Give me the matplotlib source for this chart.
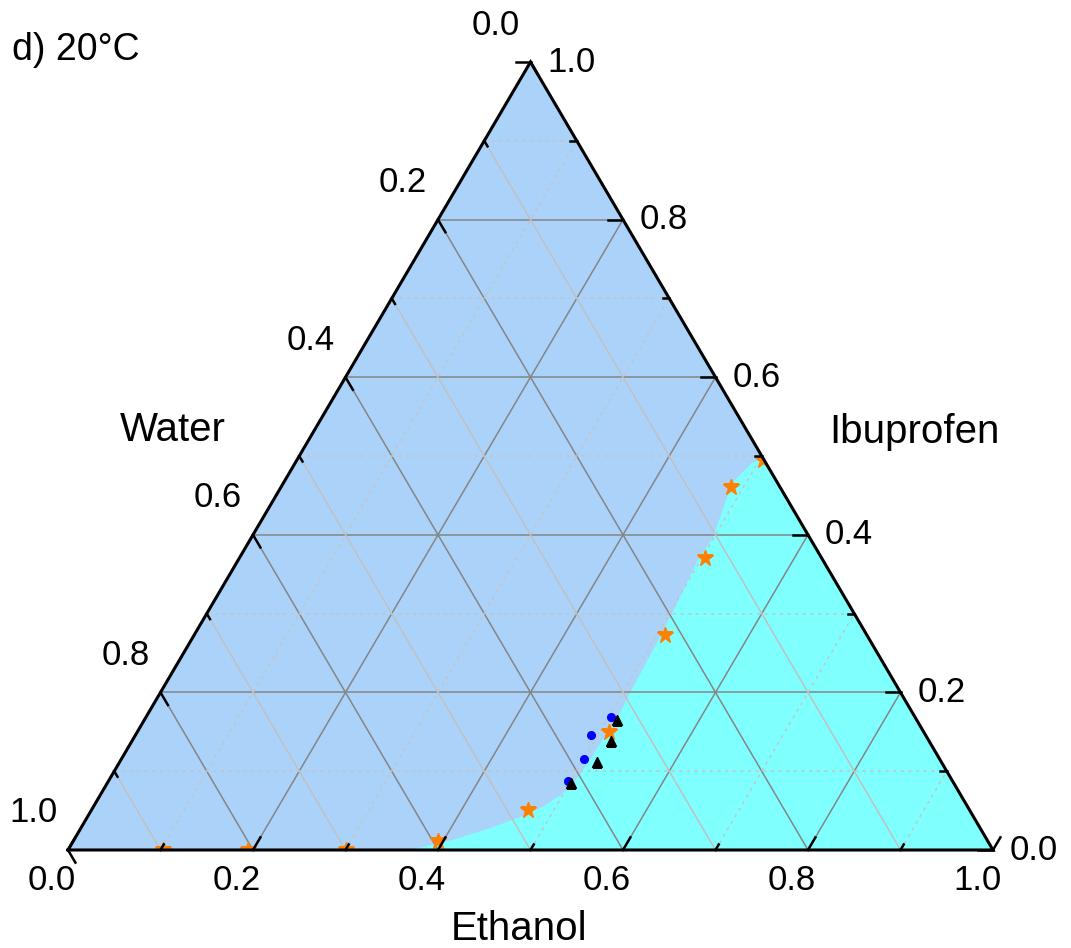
import numpy as np
import matplotlib.pyplot as plt
from matplotlib.patches import Polygon
from matplotlib.transforms import offset_copy

plt.rcParams['font.family'] = ['Liberation Sans', 'DejaVu Sans']

# -------------------------------
# compositions as (ethanol, ibuprofen); water = 1 - ethanol - ibuprofen
star_eth = [0.504, 0.486, 0.503, 0.509, 0.510, 0.472, 0.394, 0.300, 0.195, 0.103]
star_ibu = [0.495, 0.461, 0.371, 0.273, 0.150, 0.051, 0.011, 0.000, 0.000, 0.000]
dot_eth = [0.502, 0.492, 0.500, 0.496]
dot_ibu = [0.169, 0.146, 0.116, 0.088]
tri_eth = [0.511, 0.518, 0.516, 0.501]
tri_ibu = [0.165, 0.138, 0.112, 0.085]

# edge of the cyan region
bound_eth = [0.370, 0.410, 0.445, 0.468, 0.486, 0.499, 0.504, 0.507, 0.508,
             0.510, 0.508, 0.505, 0.503, 0.497, 0.499, 0.485, 0.494, 0.503]
bound_ibu = [0.000, 0.013, 0.029, 0.042, 0.055, 0.072, 0.085, 0.114, 0.146,
             0.174, 0.199, 0.267, 0.301, 0.368, 0.397, 0.466, 0.491, 0.497]

major = [0.0, 0.2, 0.4, 0.6, 0.8, 1.0]
minor = [0.1, 0.3, 0.5, 0.7, 0.9]
tick_labels = ['0.0', '0.2', '0.4', '0.6', '0.8', '1.0']
# -------------------------------

H = np.sqrt(3) / 2
BLUE = '#ABD3FA'
CYAN = '#80FFFF'


def xy(e, i):
    e = np.asarray(e, dtype=float)
    i = np.asarray(i, dtype=float)
    return e + i / 2, i * H


def seg(ax, e0, i0, e1, i1, **kw):
    x, y = xy([e0, e1], [i0, i1])
    return ax.plot(x, y, **kw)[0]


fig = plt.figure(figsize=(10.71, 9.48), dpi=100)
ax = fig.add_axes([68 / 1071, 98 / 948, 925 / 1071, 788 / 948])
ax.set_xlim(0, 1)
ax.set_ylim(0, H)
ax.axis('off')

# background fills
tri = Polygon([(0, 0), (1, 0), (0.5, H)], closed=True, fc=BLUE, ec='none', zorder=0)
ax.add_patch(tri)
bx, by = xy(bound_eth, bound_ibu)
pts = list(zip(bx, by)) + [(1, 0)]
ax.add_patch(Polygon(pts, closed=True, fc=CYAN, ec='none', zorder=1))

# grid
for c in major[1:-1]:
    kw = dict(color='#858585', lw=1.1, zorder=2)
    seg(ax, 0, c, 1 - c, c, **kw)          # ibuprofen
    seg(ax, c, 0, c, 1 - c, **kw)          # ethanol
    seg(ax, 1 - c, 0, 0, 1 - c, **kw)      # water
for c in minor:
    dot = dict(color='#c4c4c4', lw=1.1, ls=(0, (2, 3)), zorder=2)
    seg(ax, 0, c, 1 - c, c, **dot)
    seg(ax, c, 0, c, 1 - c, **dot)
    seg(ax, 1 - c, 0, 0, 1 - c, color='#c0c0c0', lw=1.1, zorder=2)

# triangle outline
ox, oy = xy([0, 1, 0, 0], [0, 0, 1, 0])
ax.plot(ox, oy, color='black', lw=2.2, zorder=5, clip_on=False,
        solid_joinstyle='miter')

# ticks
for c, L in [(t, 0.016) for t in major] + [(t, 0.007) for t in minor]:
    kw = dict(color='black', lw=1.8, zorder=5, clip_on=False)
    seg(ax, c, 0, c, L, **kw)                      # ethanol
    seg(ax, 0, 1 - c, L, 1 - c - L, **kw)          # water
    seg(ax, 1 - c, c, 1 - c - L, c, **kw)          # ibuprofen

# tick labels
fs = 25
for c, lab in zip(major, tick_labels):
    x, y = xy(c, 0)
    ax.text(x, y, lab, fontsize=fs, ha='center', va='center',
            transform=offset_copy(ax.transData, fig=fig, x=-16, y=-30, units='dots'))
    x, y = xy(0, 1 - c)
    ax.text(x, y, lab, fontsize=fs, ha='center', va='center',
            transform=offset_copy(ax.transData, fig=fig, x=-35, y=37, units='dots'))
    x, y = xy(1 - c, c)
    ax.text(x, y, lab, fontsize=fs, ha='left', va='center',
            transform=offset_copy(ax.transData, fig=fig, x=17, y=0, units='dots'))

# axis titles
fig.text(519 / 1071, 1 - 929 / 948, 'Ethanol', fontsize=29, ha='center', va='center')
fig.text(173 / 1071, 1 - 430 / 948, 'Water', fontsize=29, ha='center', va='center')
fig.text(914 / 1071, 1 - 432 / 948, 'Ibuprofen', fontsize=29, ha='center', va='center')
fig.text(12 / 1071, 1 - 50 / 948, 'd) 20\u00b0C', fontsize=27, ha='left', va='center')

# data points
sx, sy = xy(star_eth, star_ibu)
l1, = ax.plot(sx, sy, ls='none', marker='*', ms=12, color='#FF8000', mec='#FF8000', zorder=4)
dx, dy = xy(dot_eth, dot_ibu)
l2, = ax.plot(dx, dy, ls='none', marker='o', ms=5.5, color='#0000FF', zorder=4)
tx, ty = xy(tri_eth, tri_ibu)
l3, = ax.plot(tx, ty, ls='none', marker='^', ms=7, color='black', zorder=4)
for ln in (l1, l2, l3):
    ln.set_clip_path(tri)

fig.savefig('out.png', dpi=100)
